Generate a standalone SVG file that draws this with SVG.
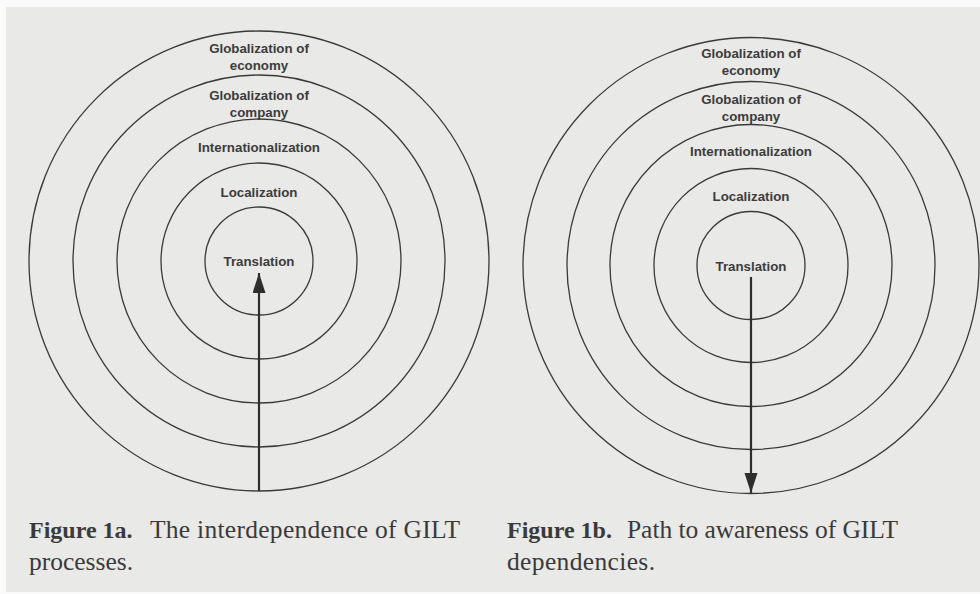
<svg xmlns="http://www.w3.org/2000/svg" width="980" height="594" viewBox="0 0 980 594">
<defs>
<style>
.ring{fill:none;stroke:#3a3a3a;stroke-width:1.3}
.lbl{font-family:"Liberation Sans",Arial,sans-serif;font-weight:bold;font-size:13.3px;fill:#3c3c3c;text-anchor:middle}
.cap{font-family:"Liberation Serif","Times New Roman",serif;font-size:25.5px;fill:#3a3a3a}
.capb{font-weight:bold;font-size:24px}
.arr{stroke:#2e2e2e;stroke-width:2.2;fill:none;marker-end:url(#ah)}
</style>
<marker id="ah" markerUnits="userSpaceOnUse" markerWidth="20" markerHeight="14" refX="20" refY="6.5" orient="auto">
<path d="M0,0 L20,6.5 L0,13 z" fill="#2e2e2e"/>
</marker>
</defs>
<rect x="0" y="0" width="980" height="594" fill="#fafafa"/>
<rect x="6" y="7" width="974" height="585" fill="#e9e9e7"/>

<g id="fig1a">
<g id="a-economy"><circle class="ring" cx="259" cy="261" r="230"/><text class="lbl" x="259" y="53">Globalization of</text><text class="lbl" x="259" y="70">economy</text></g>
<g id="a-company"><circle class="ring" cx="259" cy="261" r="186"/><text class="lbl" x="259" y="100">Globalization of</text><text class="lbl" x="259" y="117">company</text></g>
<g id="a-intl"><circle class="ring" cx="259" cy="261" r="142"/><text class="lbl" x="259" y="152">Internationalization</text></g>
<g id="a-loc"><circle class="ring" cx="259" cy="261" r="98"/><text class="lbl" x="259" y="197">Localization</text></g>
<g id="a-trans"><circle class="ring" cx="259" cy="261" r="54"/><text class="lbl" x="259" y="266">Translation</text></g>
</g>

<g id="fig1b">
<g id="b-economy"><circle class="ring" cx="751" cy="265.5" r="228"/><text class="lbl" x="751" y="58">Globalization of</text><text class="lbl" x="751" y="75">economy</text></g>
<g id="b-company"><circle class="ring" cx="751" cy="265.5" r="184"/><text class="lbl" x="751" y="104">Globalization of</text><text class="lbl" x="751" y="121">company</text></g>
<g id="b-intl"><circle class="ring" cx="751" cy="265.5" r="141"/><text class="lbl" x="751" y="156">Internationalization</text></g>
<g id="b-loc"><circle class="ring" cx="751" cy="265.5" r="97"/><text class="lbl" x="751" y="201">Localization</text></g>
<g id="b-trans"><circle class="ring" cx="751" cy="265.5" r="54"/><text class="lbl" x="751" y="271">Translation</text></g>
</g>

<g id="connectors">
<line class="arr" x1="259" y1="491" x2="259" y2="273"/>
<line class="arr" x1="751" y1="277" x2="751" y2="493"/>
</g>

<g id="captions">
<text class="cap" x="29" y="538"><tspan class="capb">Figure 1a.</tspan><tspan x="150" textLength="310">The interdependence of GILT</tspan></text>
<text class="cap" x="29" y="570" textLength="104">processes.</text>
<text class="cap" x="507" y="538"><tspan class="capb">Figure 1b.</tspan><tspan x="627" textLength="271">Path to awareness of GILT</tspan></text>
<text class="cap" x="507" y="570" textLength="148">dependencies.</text>
</g>
</svg>
